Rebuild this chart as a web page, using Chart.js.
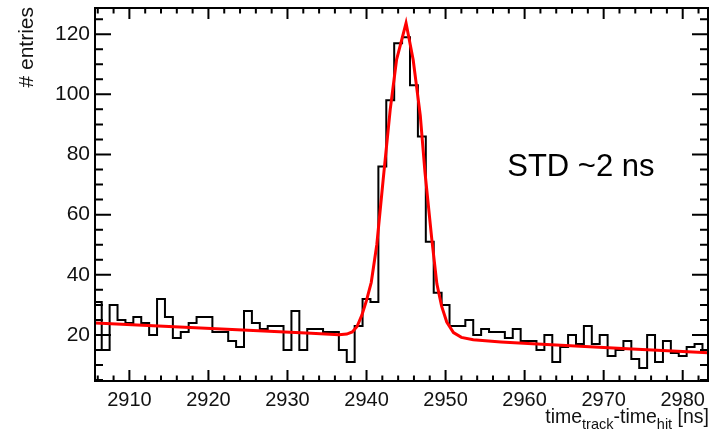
<!DOCTYPE html>
<html>
<head>
<meta charset="utf-8">
<script src="https://cdn.jsdelivr.net/npm/chart.js@4.4.0/dist/chart.umd.min.js"></script>
<style>
  html, body { margin: 0; padding: 0; background: #fff; }
  #wrap { width: 710px; height: 429px; }
</style>
</head>
<body>
<div id="wrap"><canvas id="c" width="710" height="429"></canvas></div>
<script>
// histogram, 1 ns bins, first bin starts at 2905.5 (centres 2906..2983)
const binStart = 2905.5;
const binWidth = 1;
const counts = [31, 15, 30, 25, 24, 26, 24, 20, 32, 26,    // 2906-2915
                19, 21, 24, 26, 26, 21, 21, 18, 16, 28,    // 2916-2925
                24, 22, 23, 23, 15, 28, 15, 22, 22, 21,    // 2926-2935
                21, 15, 11, 23, 32, 31, 76, 98, 117, 119,  // 2936-2945
                103, 86, 51, 34, 30, 23, 23, 25, 20, 22,   // 2946-2955
                21, 21, 19, 22, 18, 18, 15, 20, 11, 16,    // 2956-2965
                20, 17, 23, 17, 20, 13, 15, 18, 12, 9,     // 2966-2975
                20, 11, 18, 14, 13, 16, 17, 15];           // 2976-2983

// fit curve (gaus + linear bg)
const fitX = [2905.7, 2915, 2925, 2933, 2936.5, 2937.5, 2938.2, 2938.8, 2939.4, 2940.0,
              2940.6, 2941.3, 2942.1, 2943.0, 2943.8, 2945.0, 2945.9, 2946.8, 2947.4, 2948.25,
              2948.9, 2949.5, 2950.15, 2951.0, 2952.0, 2953.5, 2957, 2961, 2964, 2973.6, 2983.2];
const fitY = [24.0, 22.8, 21.6, 20.6, 20.1, 20.3, 21.0, 22.8, 26.5, 31.5,
              37.5, 50, 71.5, 95, 111.5, 123.7, 111.5, 93, 74, 52,
              37, 29.6, 24.3, 20.8, 19.2, 18.4, 17.7, 17.1, 16.7, 15.3, 14.1];

const xTicks = [2910, 2920, 2930, 2940, 2950, 2960, 2970, 2980];
const yTicks = [20, 40, 60, 80, 100, 120];
const xMin = 2905.65, xMax = 2983.2;
const yMin = 4.7, yMax = 128.7;

const FONT = '"Liberation Sans", Arial, Helvetica, sans-serif';

// step outline: one point per left edge, plus closing right edge
const histPts = counts.map((c, i) => ({ x: binStart + i * binWidth, y: c }));
histPts.push({ x: binStart + counts.length * binWidth, y: counts[counts.length - 1] });
const fitPts = fitX.map((x, i) => ({ x: x, y: fitY[i] }));

// ROOT-like frame with inward ticks on all four sides
const framePlugin = {
  id: 'frame',
  afterDatasetsDraw(chart) {
    const { ctx, chartArea: a, scales: { x, y } } = chart;
    ctx.save();
    ctx.strokeStyle = '#000';
    ctx.lineWidth = 2;
    ctx.strokeRect(a.left, a.top, a.right - a.left, a.bottom - a.top);
    ctx.beginPath();
    for (let v = Math.ceil(x.min / 2) * 2; v <= x.max; v += 2) {
      const px = x.getPixelForValue(v);
      const len = v % 10 === 0 ? 11 : 5.5;
      ctx.moveTo(px, a.bottom); ctx.lineTo(px, a.bottom - len);
      ctx.moveTo(px, a.top); ctx.lineTo(px, a.top + len);
    }
    for (let v = Math.ceil(y.min / 5) * 5; v <= y.max; v += 5) {
      const py = y.getPixelForValue(v);
      const len = v % 20 === 0 ? 16 : 8;
      ctx.moveTo(a.left, py); ctx.lineTo(a.left + len, py);
      ctx.moveTo(a.right, py); ctx.lineTo(a.right - len, py);
    }
    ctx.stroke();
    ctx.restore();
  },
  afterDraw(chart) {
    const { ctx, chartArea: a, scales: { x, y } } = chart;
    ctx.save();
    ctx.fillStyle = '#111';

    // y title, rotated, right aligned at top
    ctx.save();
    ctx.translate(33, a.top - 1);
    ctx.rotate(-Math.PI / 2);
    ctx.font = '21px ' + FONT;
    ctx.textAlign = 'right';
    ctx.textBaseline = 'alphabetic';
    ctx.fillText('# entries', 0, 0);
    ctx.restore();

    // x title with subscripts, right aligned
    const parts = [['time', 19.5, 0], ['track', 14.5, 6], ['-time', 19.5, 0], ['hit', 14.5, 6], [' [ns]', 19.5, 0]];
    ctx.textAlign = 'left';
    ctx.textBaseline = 'alphabetic';
    let w = 0;
    parts.forEach(p => { ctx.font = p[1] + 'px ' + FONT; w += ctx.measureText(p[0]).width; });
    let tx = a.right + 1 - w;
    parts.forEach(p => {
      ctx.font = p[1] + 'px ' + FONT;
      ctx.fillText(p[0], tx, 423 + p[2]);
      tx += ctx.measureText(p[0]).width;
    });

    // annotation
    ctx.font = '31px ' + FONT;
    ctx.fillStyle = '#000';
    ctx.fillText('STD ~2 ns', x.getPixelForValue(2957.8), y.getPixelForValue(72.8));
    ctx.restore();
  }
};

new Chart(document.getElementById('c'), {
  type: 'line',
  data: {
    datasets: [
      {
        label: 'fit',
        data: fitPts,
        borderColor: '#ff0000',
        borderWidth: 3,
        pointRadius: 0,
        tension: 0,
        fill: false,
        order: 0
      },
      {
        label: 'hist',
        data: histPts,
        borderColor: '#000',
        borderWidth: 2,
        pointRadius: 0,
        stepped: true,
        fill: false,
        order: 1
      }
    ]
  },
  options: {
    responsive: false,
    animation: false,
    layout: { padding: { top: 8, right: 2, left: 0, bottom: 0 } },
    plugins: { legend: { display: false }, tooltip: { enabled: false } },
    scales: {
      x: {
        type: 'linear',
        min: xMin,
        max: xMax,
        grid: { display: false, drawTicks: false },
        border: { display: false },
        afterBuildTicks: s => { s.ticks = xTicks.map(v => ({ value: v })); },
        afterFit: s => { s.height = 48; s.paddingLeft = 0; s.paddingRight = 0; },
        ticks: {
          font: { family: FONT, size: 20 },
          color: '#111',
          padding: 7,
          maxRotation: 0,
          autoSkip: false,
          callback: v => String(v)
        }
      },
      y: {
        type: 'linear',
        min: yMin,
        max: yMax,
        grid: { display: false, drawTicks: false },
        border: { display: false },
        afterBuildTicks: s => { s.ticks = yTicks.map(v => ({ value: v })); },
        afterFit: s => { s.width = 95; s.paddingTop = 0; s.paddingBottom = 0; },
        ticks: {
          font: { family: FONT, size: 21 },
          color: '#111',
          padding: 5,
          callback: v => String(v)
        }
      }
    }
  },
  plugins: [framePlugin]
});
</script>
</body>
</html>
